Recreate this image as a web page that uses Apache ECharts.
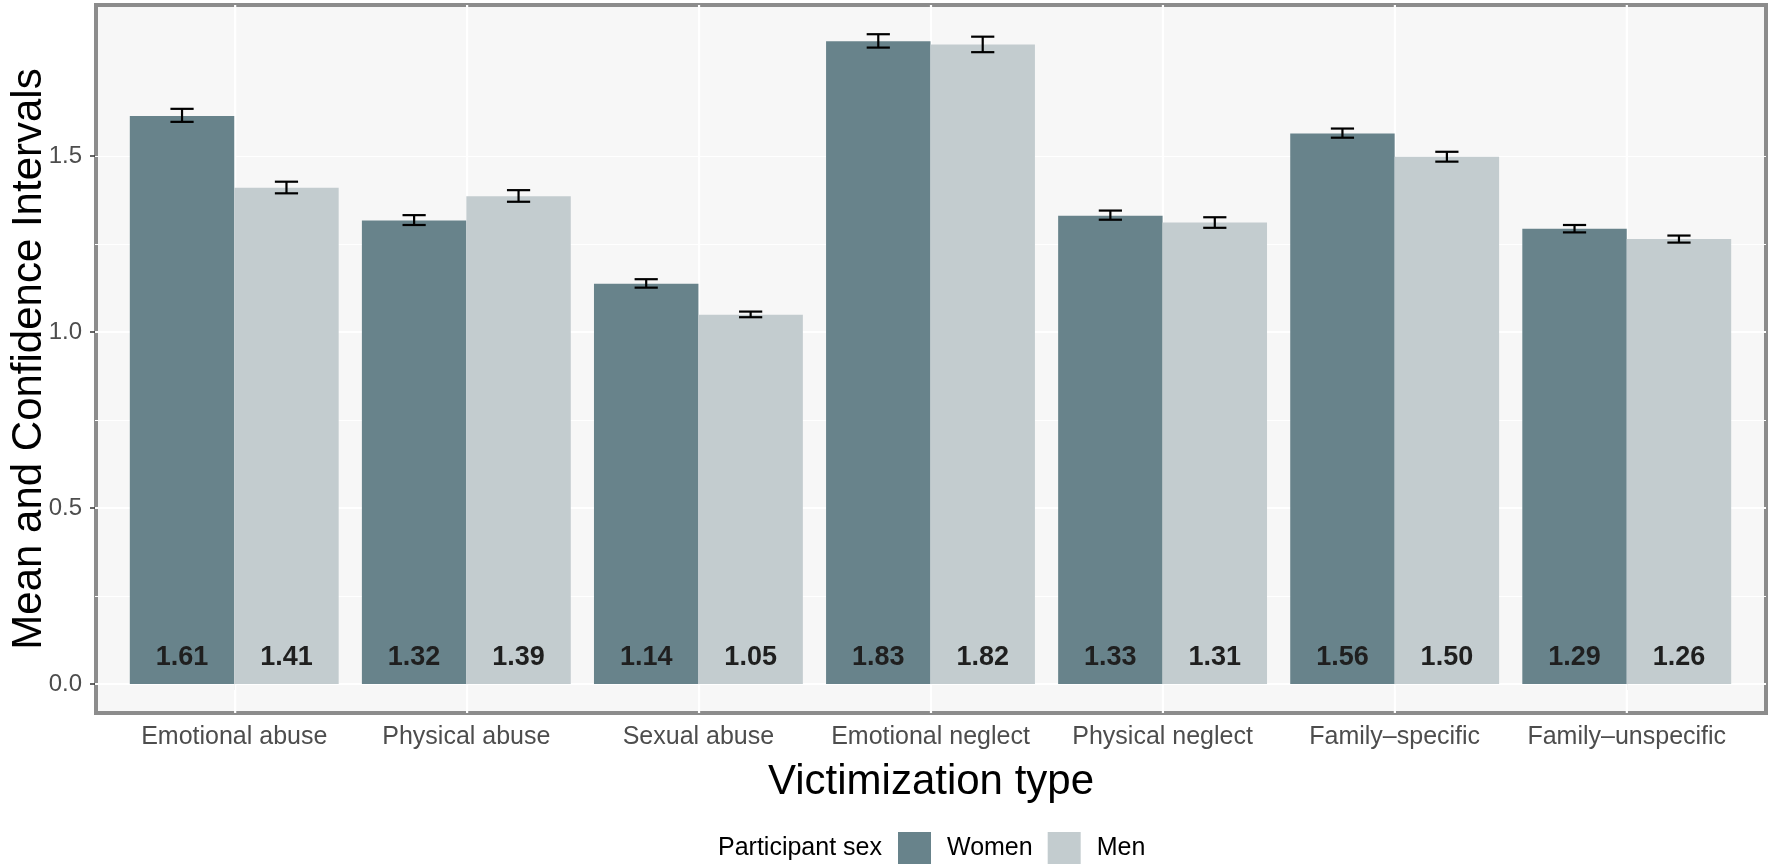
<!DOCTYPE html>
<html>
<head>
<meta charset="utf-8">
<script src="https://cdn.jsdelivr.net/npm/echarts@6/dist/echarts.min.js"></script>
<style>
html,body{margin:0;padding:0;background:#ffffff;}
#chart{width:1772px;height:866px;}
</style>
</head>
<body>
<div id="chart"></div>
<script>
// ---- data ----
const categories = ['Emotional abuse','Physical abuse','Sexual abuse','Emotional neglect','Physical neglect','Family\u2013specific','Family\u2013unspecific'];
const seriesNames = ['Women','Men'];
const womenMean = [1.614,1.317,1.137,1.826,1.330,1.564,1.293];
const menMean   = [1.410,1.386,1.049,1.817,1.311,1.498,1.264];
const womenLow  = [1.597,1.304,1.126,1.808,1.319,1.552,1.283];
const womenHigh = [1.634,1.332,1.150,1.846,1.345,1.578,1.304];
const menLow    = [1.394,1.370,1.042,1.795,1.296,1.484,1.254];
const menHigh   = [1.427,1.403,1.058,1.839,1.326,1.512,1.274];
const yTicks = [0, 0.5, 1.0, 1.5];
const yMinorTicks = [0, 0.25, 0.5, 0.75, 1.0, 1.25, 1.5, 1.75];

// ---- layout / style ----
const FONT = 'Liberation Sans, Arial, Helvetica, sans-serif';
const W = 1772, H = 866;
const panelLeft = 95, panelRight = 1766, panelTop = 5, panelBottom = 713, zeroY = 684;
const band = (panelRight - panelLeft) / 7.2;
const yMax = 1.929;
const colors = ['#68838b', '#c3cccf'];

const ciData = [];
categories.forEach((c, i) => {
  ciData.push([i, womenLow[i], womenHigh[i], -1]);
  ciData.push([i, menLow[i], menHigh[i], 1]);
});

const chart = echarts.init(document.getElementById('chart'), null, {renderer: 'canvas'});

const option = {
  animation: false,
  backgroundColor: '#ffffff',
  textStyle: {fontFamily: FONT},
  title: {
    text: 'Participant sex',
    left: 718, top: 836, padding: 0,
    textStyle: {fontSize: 25, fontWeight: 'normal', color: '#000', fontFamily: FONT}
  },
  legend: {
    data: seriesNames,
    left: 898, top: 832, padding: 0,
    itemWidth: 33, itemHeight: 32, itemGap: 15,
    icon: 'rect',
    textStyle: {fontSize: 25, color: '#000', fontFamily: FONT, padding: [0, 0, 0, 11]}
  },
  grid: [
    {left: panelLeft, right: W - panelRight, top: panelTop, bottom: H - panelBottom,
     show: true, backgroundColor: '#f7f7f7', borderColor: '#8c8c8c', borderWidth: 4},
    {left: panelLeft, right: W - panelRight, top: panelTop, bottom: H - zeroY},
    {left: panelLeft + band * 0.1, right: W - panelRight + band * 0.1, top: panelTop, bottom: H - zeroY}
  ],
  xAxis: [
    {gridIndex: 0, type: 'value', min: -0.6, max: 6.6,
     axisLine: {show: false}, axisTick: {show: false}, axisLabel: {show: false}, splitLine: {show: false},
     name: 'Victimization type', nameLocation: 'middle', nameGap: 48,
     nameTextStyle: {fontSize: 42, color: '#000', fontFamily: FONT}},
    {gridIndex: 1, type: 'value', min: 0, max: 1, show: false},
    {gridIndex: 2, type: 'category', data: categories, offset: panelBottom - zeroY,
     axisLine: {show: false},
     axisTick: {show: true, alignWithLabel: true, interval: 0, length: 6, lineStyle: {color: '#333', width: 1.5}},
     axisLabel: {fontSize: 25, color: '#4d4d4d', margin: 12, interval: 0, hideOverlap: false, fontFamily: FONT},
     splitLine: {show: false}}
  ],
  yAxis: [
    {gridIndex: 0, type: 'value', min: -(panelBottom - zeroY) / (zeroY - panelTop) * yMax, max: yMax,
     axisLine: {show: false}, axisTick: {show: false}, axisLabel: {show: false}, splitLine: {show: false},
     name: 'Mean and Confidence Intervals', nameLocation: 'middle', nameGap: 46, nameRotate: 90,
     nameTextStyle: {fontSize: 42, color: '#000', fontFamily: FONT}},
    {gridIndex: 1, type: 'value', min: 0, max: yMax, interval: 0.5, position: 'left',
     axisLine: {show: false},
     axisTick: {show: true, length: 5, customValues: yTicks, lineStyle: {color: '#333', width: 1.5}},
     axisLabel: {fontSize: 24, color: '#4d4d4d', margin: 13, customValues: yTicks,
                 fontFamily: FONT, formatter: v => Number(v).toFixed(1)},
     splitLine: {show: true, showMaxLine: false, lineStyle: {color: '#ffffff', width: 2.2}}},
    {gridIndex: 1, type: 'value', min: 0, max: yMax, interval: 0.25, position: 'right',
     axisLine: {show: false}, axisTick: {show: false, customValues: yMinorTicks}, axisLabel: {show: false},
     splitLine: {show: true, showMaxLine: false, lineStyle: {color: '#ffffff', width: 1.2}}},
    {gridIndex: 2, type: 'value', min: 0, max: yMax, show: false}
  ],
  series: [
    {
      name: 'vgrid', type: 'custom', xAxisIndex: 0, yAxisIndex: 0, z: 1, silent: true,
      data: categories.map((c, i) => [i]),
      renderItem: function (params, api) {
        const x = api.coord([api.value(0), 0])[0];
        const cs = params.coordSys;
        return {type: 'line', shape: {x1: x, y1: cs.y, x2: x, y2: cs.y + cs.height},
                style: {stroke: '#ffffff', lineWidth: 2.2}};
      }
    },
    {
      name: seriesNames[0], type: 'bar', xAxisIndex: 2, yAxisIndex: 3, z: 3,
      data: womenMean, barWidth: '45%', barGap: '0%',
      itemStyle: {color: colors[0]},
      label: {show: true, position: 'insideBottom', distance: 13, fontSize: 27, fontWeight: 'bold',
              color: '#1f1f1f', fontFamily: FONT, formatter: p => p.value.toFixed(2)}
    },
    {
      name: seriesNames[1], type: 'bar', xAxisIndex: 2, yAxisIndex: 3, z: 3,
      data: menMean, barWidth: '45%', barGap: '0%',
      itemStyle: {color: colors[1]},
      label: {show: true, position: 'insideBottom', distance: 13, fontSize: 27, fontWeight: 'bold',
              color: '#1f1f1f', fontFamily: FONT, formatter: p => p.value.toFixed(2)}
    },
    {
      name: 'ci', type: 'custom', xAxisIndex: 2, yAxisIndex: 3, z: 5, silent: true,
      data: ciData,
      encode: {x: 0, y: [1, 2]},
      renderItem: function (params, api) {
        const i = api.value(0), lo = api.value(1), hi = api.value(2), side = api.value(3);
        const bw = api.size([1, 0])[0];
        const pLo = api.coord([i, lo]);
        const pHi = api.coord([i, hi]);
        const x = pLo[0] + side * bw * 0.225;
        const hw = bw * 0.05;
        const st = {stroke: '#000000', lineWidth: 2.2};
        return {type: 'group', children: [
          {type: 'line', shape: {x1: x, y1: pLo[1], x2: x, y2: pHi[1]}, style: st},
          {type: 'line', shape: {x1: x - hw, y1: pHi[1], x2: x + hw, y2: pHi[1]}, style: st},
          {type: 'line', shape: {x1: x - hw, y1: pLo[1], x2: x + hw, y2: pLo[1]}, style: st}
        ]};
      }
    }
  ]
};
chart.setOption(option);
</script>
</body>
</html>
